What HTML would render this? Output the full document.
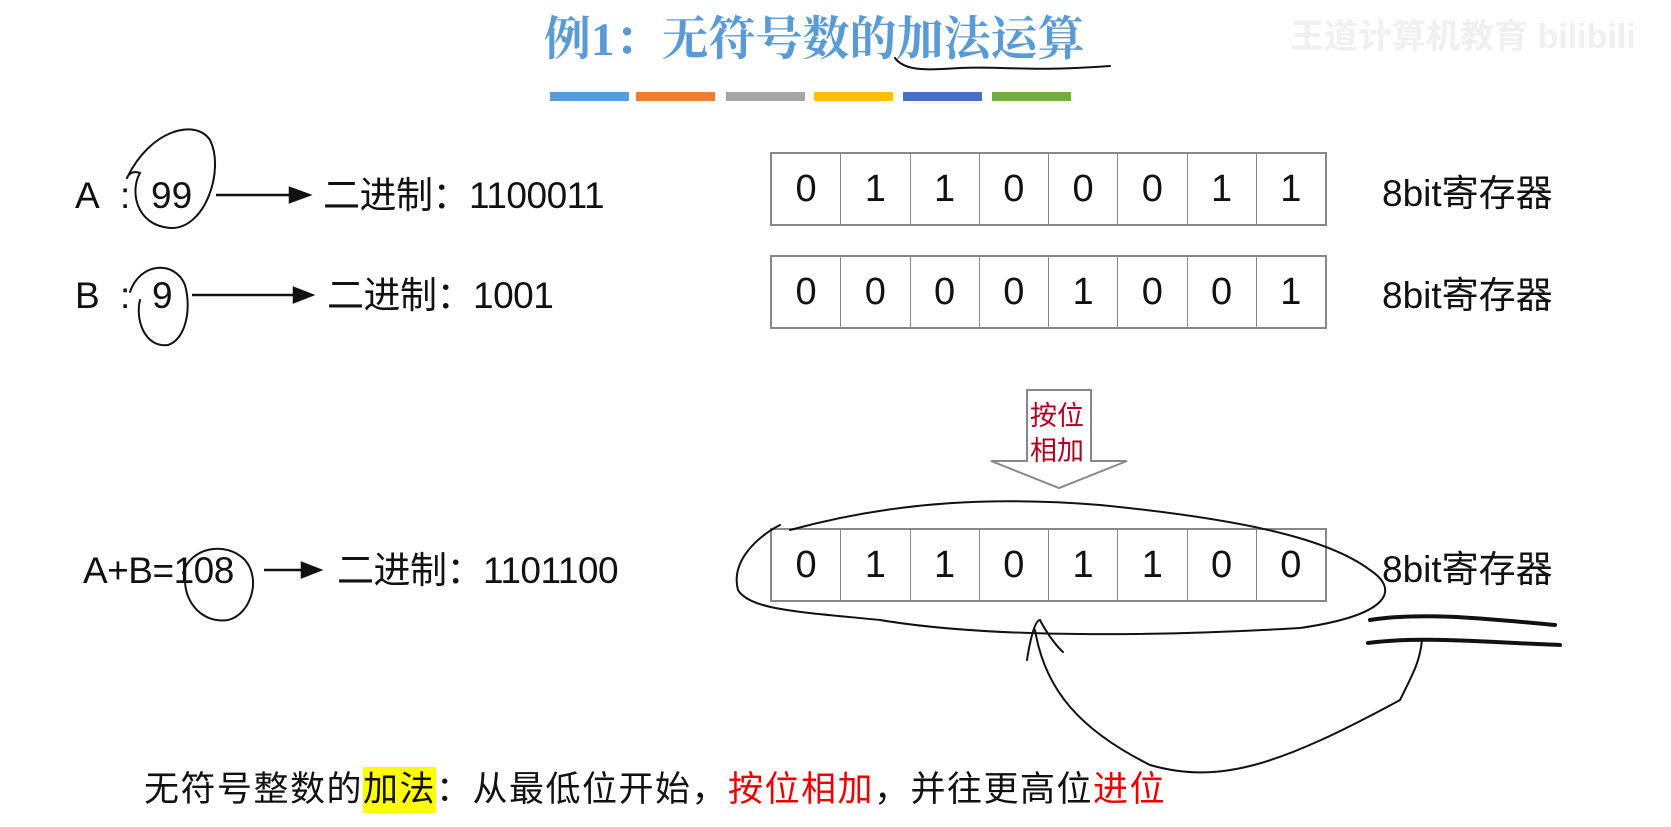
<!DOCTYPE html>
<html><head><meta charset="utf-8"><style>
body{margin:0;width:1671px;height:827px;background:#fff;position:relative;overflow:hidden;font-family:"Liberation Sans","Noto Sans CJK SC",sans-serif;color:#111}
.t{position:absolute;white-space:nowrap;line-height:1}
.reg{position:absolute;left:770px;width:557px;height:74px;border:2px solid #888;box-sizing:border-box;display:flex}
.reg div{flex:1;border-right:1.5px solid #888;display:flex;align-items:center;justify-content:center;font-size:38px}
.reg div:last-child{border-right:none}
.bar{position:absolute;top:92px;height:9px;width:79px}
</style></head><body>
<div class="t" style="left:544px;top:17px;font-size:47px;color:#5b9bd5;font-weight:bold;font-family:'Liberation Serif','Noto Serif CJK SC',serif">例1：无符号数的加法运算</div>
<div class="bar" style="left:550px;background:#5b9bd5"></div>
<div class="bar" style="left:636px;background:#ed7d31"></div>
<div class="bar" style="left:726px;background:#a5a5a5"></div>
<div class="bar" style="left:814px;background:#ffc000"></div>
<div class="bar" style="left:903px;background:#4472c4"></div>
<div class="bar" style="left:992px;background:#70ad47"></div>

<div class="t" style="left:75px;top:177px;font-size:37px">A</div>
<div class="t" style="left:120px;top:177px;font-size:37px">:</div>
<div class="t" style="left:151px;top:177px;font-size:37px">99</div>
<div class="t" style="left:323px;top:177px;font-size:37px;letter-spacing:-0.5px">二进制：1100011</div>
<div class="t" style="left:75px;top:277px;font-size:37px">B</div>
<div class="t" style="left:120px;top:277px;font-size:37px">:</div>
<div class="t" style="left:152px;top:277px;font-size:37px">9</div>
<div class="t" style="left:327px;top:277px;font-size:37px;letter-spacing:-0.5px">二进制：1001</div>
<div class="t" style="left:83px;top:552px;font-size:37px;letter-spacing:-0.5px">A+B=108</div>
<div class="t" style="left:337px;top:552px;font-size:37px;letter-spacing:-0.5px">二进制：1101100</div>

<div class="reg" style="top:152px"><div>0</div><div>1</div><div>1</div><div>0</div><div>0</div><div>0</div><div>1</div><div>1</div></div>
<div class="reg" style="top:255px"><div>0</div><div>0</div><div>0</div><div>0</div><div>1</div><div>0</div><div>0</div><div>1</div></div>
<div class="reg" style="top:528px"><div>0</div><div>1</div><div>1</div><div>0</div><div>1</div><div>1</div><div>0</div><div>0</div></div>
<div class="t" style="left:1382px;top:175px;font-size:37px">8bit寄存器</div>
<div class="t" style="left:1382px;top:277px;font-size:37px">8bit寄存器</div>
<div class="t" style="left:1382px;top:551px;font-size:37px">8bit寄存器</div>

<div style="left:363px;top:767px;width:73px;height:46px;background:#ffff00;position:absolute"></div>
<div class="t" style="left:144px;top:772px;font-size:35px;letter-spacing:1.5px">无符号整数的加法：从最低位开始，<span style="color:#e00">按位相加</span>，并往更高位<span style="color:#e00">进位</span></div>

<svg width="1671" height="827" style="position:absolute;left:0;top:0" fill="none">
<g stroke="#111" stroke-width="2.5">
<line x1="216" y1="195" x2="290" y2="195"/><polygon points="290,188 309,195 290,202" fill="#111"/>
<line x1="192" y1="295" x2="294" y2="295"/><polygon points="294,288 312,295 294,302" fill="#111"/>
<line x1="264" y1="570" x2="302" y2="570"/><polygon points="302,563 320,570 302,577" fill="#111"/>
</g>
<path d="M1027,390 L1091,390 L1091,461 L1127,461 L1059,488 L991,461 L1027,461 Z" stroke="#888" stroke-width="2" fill="#fff"/>
<g stroke="#111" stroke-width="2" stroke-linecap="round">
<path d="M895,58 C905,72 930,70 960,68 C1000,66 1030,72 1110,66"/>
<path d="M127,178 C150,130 195,118 210,140 C225,170 205,230 170,228 C135,225 130,190 140,173 C132,170 128,175 127,178"/>
<path d="M130,292 C140,262 175,260 185,285 C192,310 185,340 168,345 C145,348 135,320 140,300"/>
<path d="M183,573 C190,548 225,540 245,560 C262,580 250,615 228,620 C205,624 185,605 185,580"/>
<path d="M780,525 C760,535 730,560 738,590 C750,610 800,612 880,620 C1000,640 1180,635 1300,628 C1390,615 1400,590 1370,570 C1330,540 1250,520 1100,505 C1000,497 900,500 790,530"/>
<path d="M1027,660 C1030,640 1035,620 1040,620 C1045,630 1055,645 1063,652"/>
<path d="M1035,630 C1045,690 1080,730 1150,765 C1220,785 1280,765 1400,700 C1415,670 1420,660 1422,640"/>
<path d="M1370,620 C1420,612 1480,618 1555,625" stroke-width="4"/>
<path d="M1368,643 C1420,636 1480,642 1560,645" stroke-width="4"/>
</g>
<text x="1030" y="425" font-size="27" fill="#b00020" font-family="Liberation Sans,Noto Sans CJK SC,sans-serif">按位</text>
<text x="1030" y="460" font-size="27" fill="#b00020" font-family="Liberation Sans,Noto Sans CJK SC,sans-serif">相加</text>
</svg>
<div class="t" style="left:1290px;top:20px;font-size:34px;color:#f0f0f0;font-weight:bold">王道计算机教育 bilibili</div>
</body></html>
